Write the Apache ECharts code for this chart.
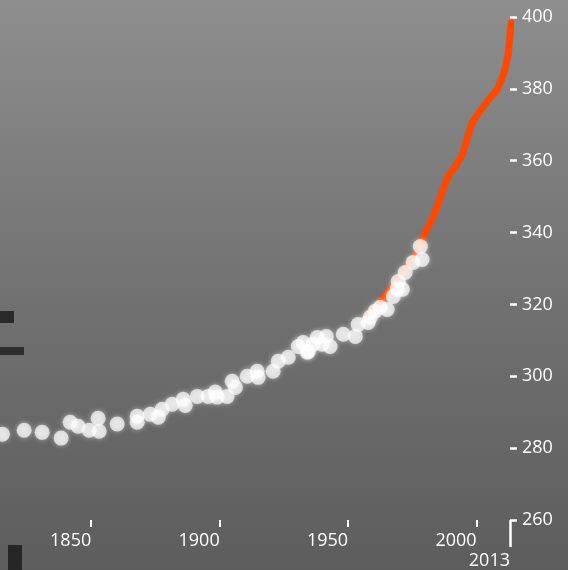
<!DOCTYPE html>
<html>
<head>
<meta charset="utf-8">
<script src="https://cdn.jsdelivr.net/npm/echarts@6/dist/echarts.min.js"></script>
<style>html,body{margin:0;padding:0;background:#777;}#c{width:568px;height:570px;}</style>
</head>
<body>
<div id="c"></div>
<script>
// Ice-core CO2 (ppm) by year
const iceYears = [1815.4,1823.9,1830.9,1838.3,1841.8,1844.9,1849.2,1852.7,1853.1,1860.1,1867.9,1867.9,1873.0,1876.1,1877.6,1881.5,1885.8,1886.6,1891.3,1895.5,1898.3,1899.0,1902.9,1904.9,1906.1,1910.7,1914.6,1915.0,1920.8,1922.8,1926.7,1930.6,1932.5,1934.1,1934.5,1936.4,1938.0,1939.9,1941.5,1943.0,1948.1,1952.8,1953.9,1957.8,1958.6,1960.5,1962.5,1965.2,1967.6,1969.1,1969.5,1971.1,1972.2,1975.3,1978.1,1978.8];
const icePpm   = [283.9,285.0,284.4,282.8,287.2,286.1,285.0,288.3,284.7,286.7,288.9,287.2,289.4,288.6,290.8,292.2,293.6,291.9,294.4,294.4,295.6,294.2,294.4,298.6,296.9,300.0,301.4,299.7,301.4,304.2,305.3,308.3,309.4,306.7,306.9,308.9,310.8,308.9,311.1,308.3,311.7,311.1,314.4,315.0,316.4,318.1,319.2,318.6,322.2,324.2,326.4,324.2,328.9,331.7,336.1,332.5];
// Mauna Loa CO2 (ppm)
const mlYears = [1957.8,1962,1966,1970,1973,1976.9,1980.0,1982.5,1984.7,1987.0,1989.0,1991.5,1994.4,1996.7,1998.3,2001,2004.5,2008.0,2010.5,2012.3,2013.5];
const mlPpm   = [316.7,320.2,323.8,327.5,330.5,334.4,340.0,343.5,347.2,352.0,355.8,358.2,361.5,367.0,370.6,373.5,376.9,379.7,384.0,389.5,398.5];
// Axis ticks
const xTicks = [1850,1900,1950,2000];
const xEndTick = [2013];
const yMin = 260, yMax = 400, yStep = 20;

const chart = echarts.init(document.getElementById('c'));
const font = "'Open Sans', 'DejaVu Sans', sans-serif";
const white = '#ffffff';
const plain = v => String(Math.round(v));

chart.setOption({
  animation: false,
  backgroundColor: {
    type: 'linear', x: 0, y: 0, x2: 0, y2: 1,
    colorStops: [
      {offset: 0, color: '#8e8e8e'},
      {offset: 0.5, color: '#727272'},
      {offset: 1, color: '#5d5d5d'}
    ]
  },
  grid: {left: 0, right: 58, top: 17, bottom: 49, containLabel: false},
  xAxis: [
    {
      type: 'value', min: 1814.5, max: 2013, position: 'bottom',
      axisLine: {show: false},
      splitLine: {show: false},
      axisTick: {show: true, customValues: xTicks, length: 7, lineStyle: {color: white, width: 2}},
      axisLabel: {show: true, customValues: xTicks, align: 'right', margin: 12, formatter: plain,
        color: white, fontSize: 18, fontFamily: font}
    },
    {
      type: 'value', min: 1814.5, max: 2013, position: 'bottom',
      axisLine: {show: false},
      splitLine: {show: false},
      axisTick: {show: true, customValues: xEndTick, length: 27, lineStyle: {color: white, width: 2.5}},
      axisLabel: {show: true, customValues: xEndTick, align: 'right', margin: 32, formatter: plain,
        color: white, fontSize: 18, fontFamily: font}
    }
  ],
  yAxis: {
    type: 'value', min: yMin, max: yMax, interval: yStep, position: 'right',
    axisLine: {show: false},
    splitLine: {show: false},
    axisTick: {show: true, length: 7, lineStyle: {color: white, width: 2.5}},
    axisLabel: {margin: 12, color: white, fontSize: 18, fontFamily: font, formatter: plain,
      verticalAlign: 'middle', padding: [0, 0, 8, 0]}
  },
  series: [
    {
      type: 'line', xAxisIndex: 0, clip: false,
      data: mlYears.map((y, i) => [y, mlPpm[i]]),
      showSymbol: false, smooth: false,
      lineStyle: {color: '#ff4800', width: 7, cap: 'round', join: 'round'},
      z: 2
    },
    {
      type: 'scatter', xAxisIndex: 0, clip: false,
      data: iceYears.map((y, i) => [y, icePpm[i]]),
      symbolSize: 15,
      itemStyle: {color: 'rgba(255,255,255,0.86)', shadowBlur: 5, shadowColor: 'rgba(255,255,255,0.7)'},
      z: 3
    }
  ],
  graphic: [
    {type: 'rect', shape: {x: 0, y: 311, width: 14, height: 12}, style: {fill: '#2a2a2a'}},
    {type: 'rect', shape: {x: 0, y: 347, width: 24, height: 8}, style: {fill: '#2e2e2e'}},
    {type: 'rect', shape: {x: 8, y: 545, width: 14, height: 25}, style: {fill: '#262626'}}
  ]
});
</script>
</body>
</html>
